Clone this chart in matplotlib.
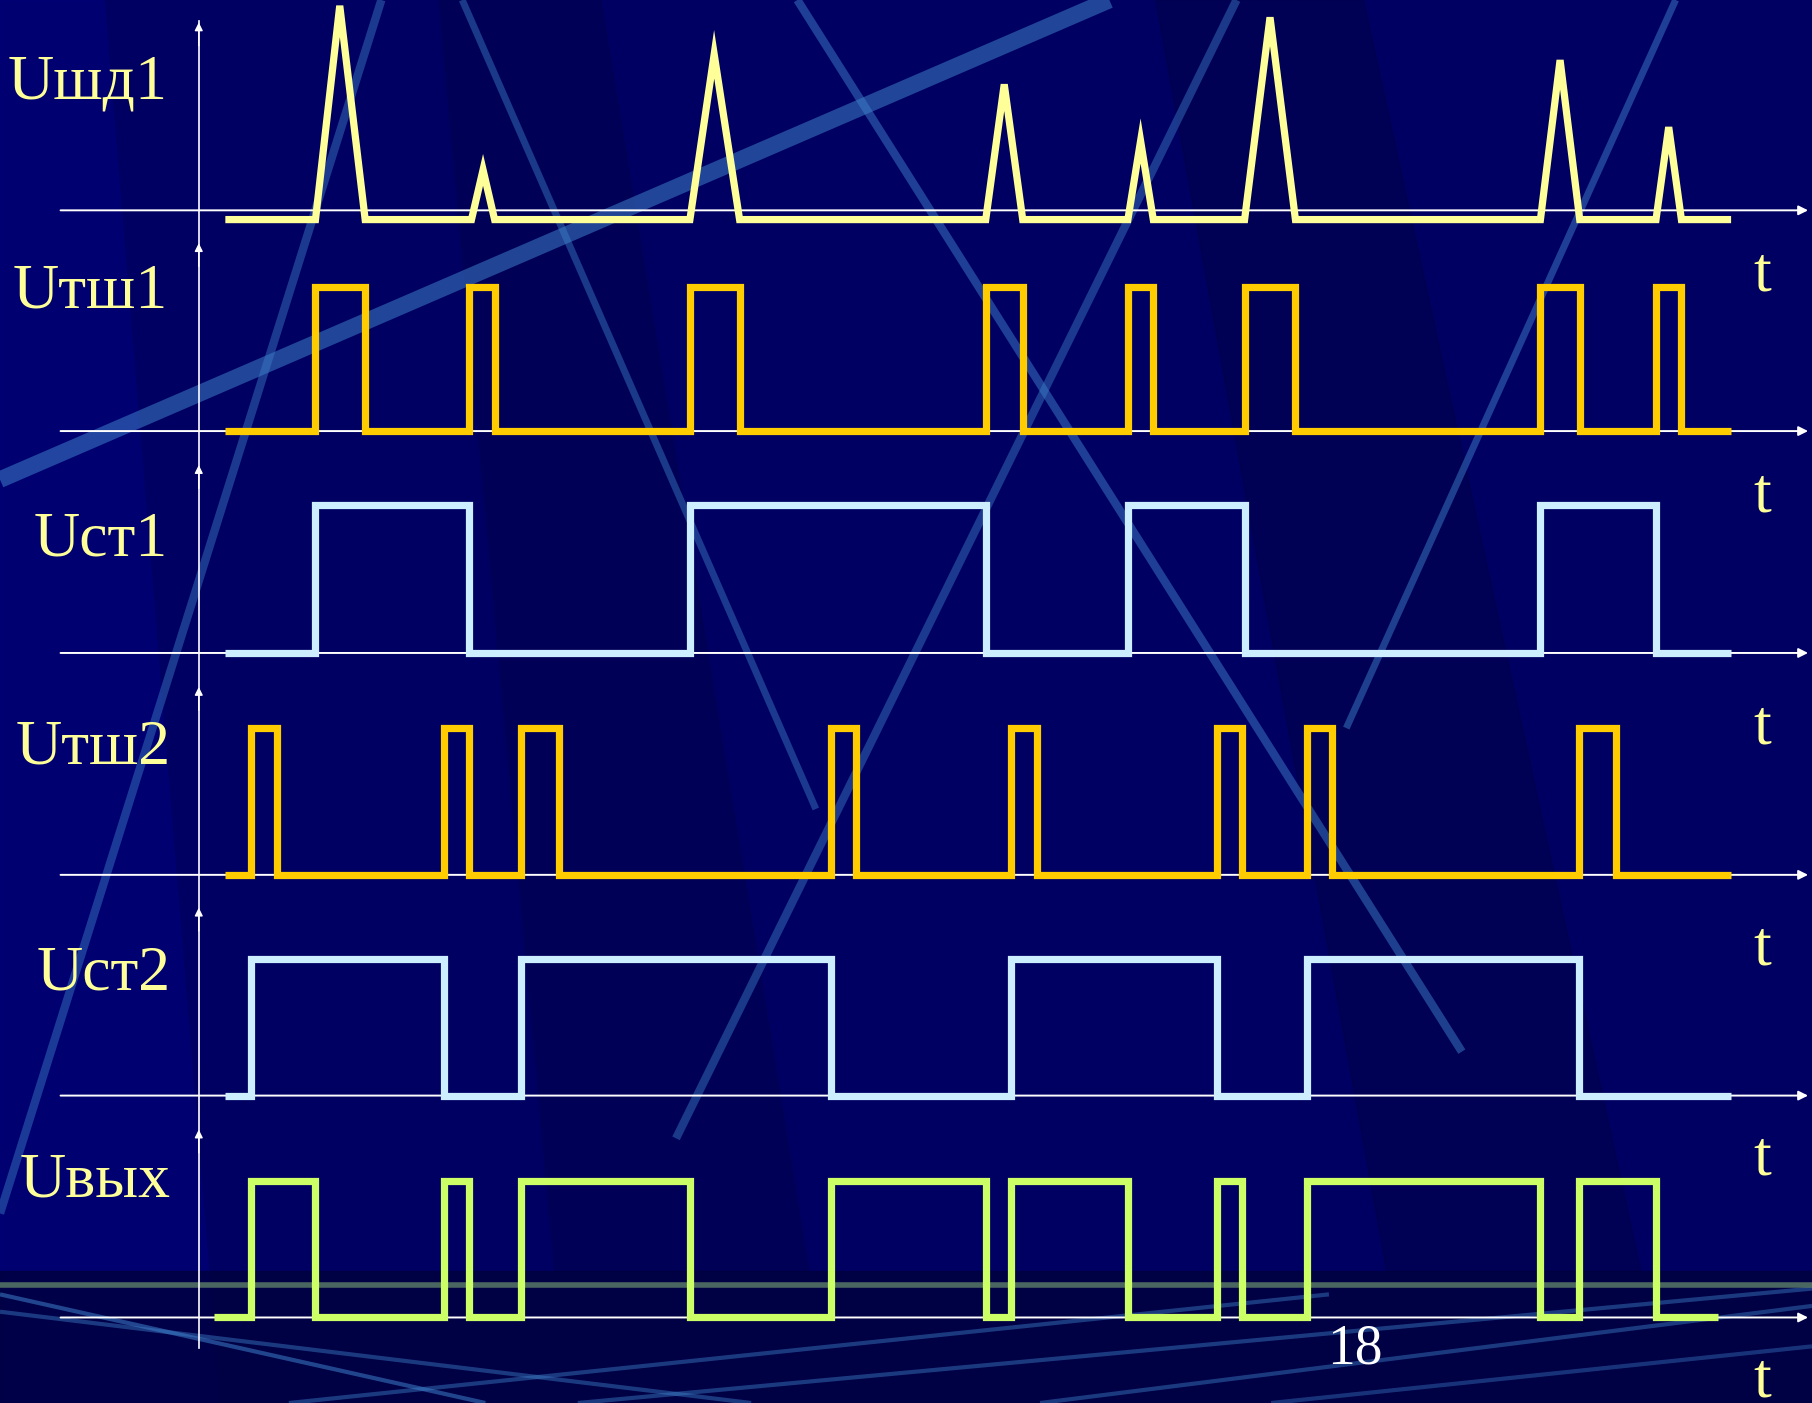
import numpy as np
import matplotlib
matplotlib.use('Agg')
import matplotlib.pyplot as plt

# Timing diagram: spikes, trigger pulses and output (time in screen units, 0..1568)
labels = ['Uшд1', 'Uтш1', 'Uст1', 'Uтш2', 'Uст2', 'Uвых']

# Uшд1 spikes: (start, peak, end, peak height)
spike_start = [273, 408, 597, 853, 976, 1077, 1333, 1433]
spike_peak = [294, 418, 618, 869, 987, 1099, 1350, 1444]
spike_end = [316, 428, 640, 885, 998, 1121, 1367, 1455]
spike_height = [185, 43, 143, 117, 68, 175, 138, 80]

# pulse trains: (rise, fall)
tsh1_rise = [273, 406, 597, 853, 976, 1077, 1333, 1433]
tsh1_fall = [316, 428, 640, 885, 998, 1121, 1367, 1455]
st1_rise = [273, 597, 976, 1333]
st1_fall = [406, 853, 1077, 1433]
tsh2_rise = [217, 384, 451, 719, 875, 1053, 1131, 1366]
tsh2_fall = [240, 406, 484, 741, 897, 1075, 1153, 1398]
st2_rise = [217, 451, 875, 1131]
st2_fall = [384, 719, 1053, 1366]
out_rise = [217, 384, 451, 719, 875, 1053, 1131, 1366]
out_fall = [273, 406, 597, 853, 976, 1075, 1333, 1433]

t_start = [195, 195, 195, 195, 195, 185]
t_end = [1498, 1498, 1498, 1498, 1498, 1487]

# layout (screen units)
W, H = 1568, 1214
baselines = [182, 373, 565, 757, 948, 1140]
low_offset = [8, 0, 0, 0, 0, 0]
pulse_amp = [0, 125, 128, 127, 118, 118]
label_y = [72, 253, 468, 648, 843, 1022]
label_x = [145, 145, 145, 148, 148, 148]
t_label_y = [238, 430, 630, 822, 1003, 1195]
colors = ['#FFFF99', '#FFCC00', '#CCEEFF', '#FFCC00', '#CCEEFF', '#CCFF66']


def pulse_path(rise, fall, t0, t1):
    xs, ys = [t0], [0]
    for r, f in zip(rise, fall):
        xs += [r, r, f, f]
        ys += [0, 1, 1, 0]
    xs.append(t1)
    ys.append(0)
    return np.array(xs, float), np.array(ys, float)


fig = plt.figure(figsize=(18.12, 14.03), dpi=100)
ax = fig.add_axes([0, 0, 1, 1])
ax.set_xlim(0, W)
ax.set_ylim(H, 0)
ax.axis('off')
fig.patch.set_facecolor('#000062')

# background decoration
ax.fill([0, 0, 190, 90], [0, 1214, 1214, 0], color='#00007A', alpha=0.6, zorder=0)
ax.fill([380, 520, 700, 480], [0, 0, 1100, 1100], color='#000050', alpha=0.6, zorder=0)
ax.fill([1000, 1180, 1420, 1200], [0, 0, 1100, 1100], color='#00004C', alpha=0.6, zorder=0)
ax.fill([0, W, W, 0], [1100, 1100, H, H], color='#00003E', alpha=0.8, zorder=0)
streaks = [((0, 415), (960, 0), 12, 0.55),
           ((400, 0), (706, 700), 5, 0.45),
           ((690, 0), (1265, 910), 6, 0.5),
           ((1450, 0), (1165, 630), 5, 0.5),
           ((1070, 0), (585, 985), 6, 0.45),
           ((330, 0), (0, 1050), 6, 0.45),
           ((0, 1120), (420, 1214), 3, 0.55),
           ((0, 1135), (650, 1214), 3, 0.45),
           ((250, 1214), (1150, 1120), 3, 0.45),
           ((500, 1214), (1568, 1115), 3, 0.45),
           ((900, 1214), (1568, 1130), 3, 0.45),
           ((1100, 1214), (1568, 1165), 3, 0.4)]
for (x0, y0), (x1, y1), lw, a in streaks:
    ax.plot([x0, x1], [y0, y1], color='#3D7FC8', lw=lw, alpha=a,
            solid_capstyle='butt', zorder=1)
ax.plot([0, W], [1112, 1112], color='#5E8068', lw=4, alpha=0.8, zorder=1)

# axes
ax.plot([172, 172], [18, 1166], color='white', lw=1.2, zorder=2)
for b in baselines:
    ax.annotate('', xy=(1567, b), xytext=(50, b),
                arrowprops=dict(arrowstyle='-|>', color='white', lw=1.4,
                                mutation_scale=14), zorder=2)
    ax.annotate('', xy=(172, b - 165), xytext=(172, b - 140),
                arrowprops=dict(arrowstyle='-|>', color='white', lw=1.0,
                                mutation_scale=12), zorder=2)

# signals
sigs = []
xs, ys = [t_start[0]], [0]
for s, p, e, h in zip(spike_start, spike_peak, spike_end, spike_height):
    xs += [s, p, e]
    ys += [0, h, 0]
xs.append(t_end[0])
ys.append(0)
sigs.append((np.array(xs, float), np.array(ys, float)))
pairs = [(tsh1_rise, tsh1_fall), (st1_rise, st1_fall), (tsh2_rise, tsh2_fall),
         (st2_rise, st2_fall), (out_rise, out_fall)]
for i, (r, f) in enumerate(pairs, start=1):
    px, py = pulse_path(r, f, t_start[i], t_end[i])
    sigs.append((px, py * pulse_amp[i]))

for i, (px, py) in enumerate(sigs):
    base = baselines[i] + low_offset[i]
    ax.plot(px, base - py, color=colors[i], lw=5.2, solid_joinstyle='miter',
            solid_capstyle='butt', zorder=3)

# labels
for i, lab in enumerate(labels):
    ax.text(label_x[i], label_y[i], lab, color='#FFFF99', fontsize=46,
            family='Liberation Serif', ha='right', va='center', zorder=4)
    ax.text(1525, t_label_y[i], 't', color='#FFFF99', fontsize=46,
            family='Liberation Serif', ha='center', va='center', zorder=4)

ax.text(1172, 1168, '18', color='white', fontsize=40,
        family='Liberation Serif', ha='center', va='center', zorder=4)

fig.savefig('out.png', dpi=100, facecolor=fig.get_facecolor())
